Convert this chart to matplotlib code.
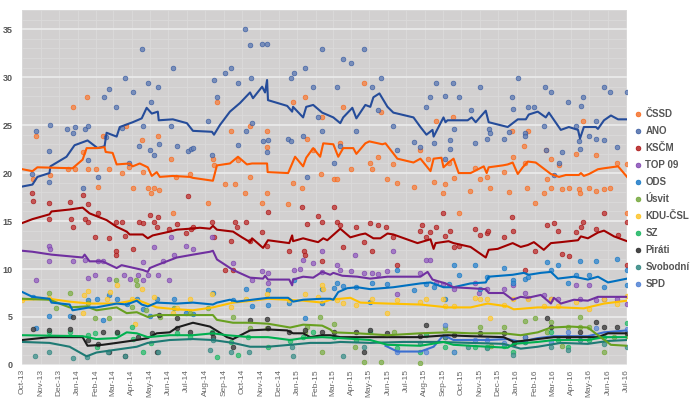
import matplotlib
matplotlib.use('Agg')
import matplotlib.pyplot as plt
import matplotlib.dates as mdates
from matplotlib.lines import Line2D
from matplotlib.ticker import MultipleLocator
import numpy as np
import pandas as pd

plt.rcParams['font.family'] = ['Liberation Sans', 'DejaVu Sans']

# Czech opinion polls after the Oct 2013 election
# x values are months after 1 Oct 2013, y values are percent
START = pd.Timestamp('2013-10-01')
END = pd.Timestamp('2016-07-03')

ANO_TREND = [(0, 18.6), (0.55, 18.8), (0.82, 19.6), (1.48, 20.0), (1.53, 20.7), (2.41, 21.7), (2.85, 22.9),
             (3.56, 23.4), (4.11, 22.6), (4.49, 22.8), (4.60, 24.2), (5.15, 23.8), (5.32, 24.8), (6.03, 25.3),
             (6.52, 25.7), (6.79, 26.8), (7.07, 26.2), (7.40, 26.4), (7.45, 25.5), (8.22, 25.6), (8.99, 25.2),
             (9.32, 24.4), (10.36, 24.3), (10.47, 24.0), (10.79, 25.0), (11.34, 26.4), (11.89, 27.3),
             (12.44, 28.4), (12.60, 27.8), (13.10, 29.0), (13.26, 28.4), (13.37, 29.7), (13.42, 27.6),
             (14.47, 27.0), (14.74, 26.4), (14.79, 26.9), (15.34, 25.8), (15.51, 26.9), (15.89, 27.1),
             (16.38, 26.3), (16.99, 25.8), (17.37, 25.2), (17.53, 25.8), (18.03, 26.8), (18.25, 25.7),
             (18.74, 27.1), (19.01, 26.9), (19.18, 27.9), (19.51, 28.3), (19.95, 26.9), (20.27, 26.3),
             (21.37, 25.8), (21.75, 24.8), (22.08, 24.0), (22.41, 24.5), (22.47, 23.8), (23.01, 25.8),
             (23.12, 25.3), (23.23, 25.5), (24.33, 25.5), (24.55, 25.8), (24.77, 25.3), (25.32, 26.5),
             (25.48, 25.3), (26.52, 24.8), (27.07, 25.6), (27.51, 25.6), (27.67, 26.1), (28.16, 26.4),
             (28.60, 25.8), (28.77, 26.3), (29.42, 24.5), (29.86, 24.8), (30.36, 24.5), (30.47, 23.6),
             (30.68, 24.8), (31.34, 24.8), (31.45, 24.6), (31.78, 25.5), (32.16, 26.0), (32.55, 25.6),
             (33.04, 25.6)]
ANO_POLLS = [(0.77, 24.4), (0.55, 19.9), (1.53, 25.0), (1.48, 22.3), (1.48, 19.1), (2.41, 24.6), (2.85, 24.8),
             (2.74, 24.2), (3.40, 24.6), (3.56, 24.9), (3.29, 18.4), (3.56, 21.4), (4.44, 27.9), (4.71, 28.8),
             (5.10, 26.9), (4.55, 23.8), (4.11, 19.6), (5.59, 29.9), (6.03, 28.4), (5.42, 24.7), (5.81, 21.0),
             (6.52, 32.9), (6.85, 29.4), (7.01, 27.4), (7.40, 29.0), (6.58, 24.9), (6.96, 22.4), (7.18, 21.9),
             (7.45, 23.0), (6.36, 22.8), (8.22, 30.9), (8.11, 24.9), (8.44, 22.8), (9.04, 22.3), (9.21, 22.5),
             (9.32, 22.6), (10.14, 25.4), (10.36, 21.9), (10.47, 29.7), (10.63, 27.9), (11.07, 30.4),
             (11.40, 30.9), (11.78, 29.4), (12.49, 29.9), (12.16, 35.0), (12.44, 33.3), (13.10, 33.4),
             (13.37, 33.5), (12.55, 25.2), (12.22, 24.4), (11.78, 22.9), (13.37, 22.2), (13.42, 23.4),
             (13.15, 23.3), (14.68, 29.9), (14.85, 30.4), (15.45, 30.9), (15.89, 29.0), (16.38, 32.9),
             (14.52, 23.5), (14.68, 23.3), (15.34, 23.9), (15.56, 19.6), (16.16, 25.8), (16.38, 24.4),
             (17.53, 31.9), (17.97, 31.5), (18.68, 32.9), (17.21, 29.0), (19.62, 29.9), (19.12, 29.0),
             (17.37, 22.8), (17.04, 21.1), (18.25, 24.4), (19.45, 26.6), (20.27, 24.9), (20.49, 22.4),
             (21.42, 23.2), (21.70, 22.7), (22.08, 26.9), (22.30, 27.9), (22.58, 29.4), (22.47, 23.1),
             (23.07, 28.0), (23.07, 21.5), (23.34, 23.4), (23.34, 22.5), (23.51, 29.4), (23.56, 24.6),
             (23.84, 27.9), (24.49, 26.6), (24.71, 23.1), (24.99, 29.0), (25.37, 23.6), (25.48, 24.6),
             (25.53, 24.2), (26.30, 23.6), (26.58, 24.3), (26.74, 27.9), (26.79, 26.7), (27.07, 29.9),
             (27.45, 24.2), (27.45, 23.9), (27.62, 26.9), (27.95, 26.9), (28.49, 24.9), (28.55, 29.0),
             (28.88, 28.4), (28.60, 22.4), (29.32, 21.1), (29.04, 19.8), (29.48, 22.2), (29.81, 27.4),
             (30.25, 24.9), (30.52, 27.0), (30.63, 27.9), (30.41, 23.3), (30.47, 22.5), (30.96, 23.9),
             (31.34, 25.4), (31.34, 23.5), (31.78, 29.0), (31.78, 23.4), (32.11, 28.4), (32.49, 22.7),
             (33.04, 28.4)]

CSSD_TREND = [(0, 20.4), (0.55, 20.2), (0.82, 20.6), (2.74, 20.5), (3.29, 21.4), (3.51, 22.6), (4.05, 22.6),
              (4.49, 22.7), (4.55, 22.2), (4.93, 22.1), (5.15, 20.9), (5.86, 21.0), (6.03, 20.7), (6.41, 21.0),
              (6.85, 20.6), (7.07, 19.7), (7.34, 20.1), (7.51, 19.6), (8.22, 19.7), (9.15, 19.6), (9.32, 19.5),
              (10.41, 19.2), (10.63, 20.8), (11.34, 21.0), (11.78, 21.7), (12.27, 20.9), (12.55, 21.0),
              (13.37, 21.0), (13.40, 20.1), (14.52, 20.0), (14.90, 21.7), (15.34, 20.7), (15.51, 21.6),
              (15.89, 22.6), (16.27, 21.7), (16.44, 23.1), (16.99, 23.0), (17.26, 21.7), (17.53, 22.6),
              (18.08, 22.6), (18.25, 22.0), (18.74, 23.1), (18.96, 23.3), (19.67, 23.0), (19.84, 23.1),
              (20.49, 21.5), (21.37, 21.1), (21.75, 21.5), (22.30, 20.2), (22.47, 21.5), (22.90, 21.6),
              (23.01, 20.6), (23.29, 21.1), (23.56, 21.5), (23.84, 20.0), (24.49, 20.0), (25.21, 20.7),
              (25.37, 20.0), (25.48, 20.6), (26.25, 20.8), (26.52, 20.9), (26.79, 21.1), (27.07, 19.9),
              (27.34, 20.6), (27.62, 21.2), (28.05, 21.1), (28.88, 19.9), (29.32, 19.6), (29.70, 19.8),
              (30.41, 19.8), (30.52, 20.0), (30.68, 19.7), (30.96, 19.9), (31.45, 20.4), (31.78, 20.5),
              (32.55, 20.7), (33.04, 19.6)]
CSSD_POLLS = [(0.77, 23.9), (0.60, 19.4), (1.53, 19.8), (2.79, 26.9), (3.51, 27.9), (2.47, 20.4), (2.85, 20.4),
              (3.29, 22.2), (3.56, 20.4), (4.00, 20.4), (4.11, 18.5), (4.38, 23.9), (4.71, 20.4), (5.42, 20.0),
              (5.64, 24.9), (5.81, 20.6), (6.03, 18.4), (6.52, 23.4), (6.58, 20.1), (6.85, 18.4), (7.01, 17.9),
              (7.18, 18.4), (7.45, 18.2), (7.40, 23.9), (8.11, 21.5), (8.38, 19.6), (9.15, 19.9), (10.14, 16.9),
              (8.22, 15.8), (10.41, 21.5), (10.47, 20.8), (10.63, 27.4), (11.07, 18.9), (11.40, 24.4),
              (11.62, 18.9), (11.78, 21.4), (12.16, 17.9), (12.44, 24.9), (12.44, 19.6), (13.10, 16.9),
              (13.37, 24.4), (13.37, 22.7), (13.37, 17.9), (14.79, 27.4), (15.45, 27.9), (15.56, 23.5),
              (14.79, 19.0), (15.29, 18.4), (14.52, 16.8), (15.89, 22.4), (16.33, 19.9), (16.38, 25.8),
              (18.68, 29.4), (17.53, 26.9), (19.62, 26.4), (17.37, 23.1), (17.04, 19.4), (17.21, 19.4),
              (17.97, 20.4), (19.01, 21.0), (19.12, 20.4), (19.45, 21.7), (20.27, 20.9), (19.95, 19.4),
              (20.49, 19.0), (21.42, 18.5), (21.70, 22.4), (22.14, 21.5), (22.47, 19.1), (22.58, 25.4),
              (22.96, 17.9), (23.07, 18.9), (23.29, 21.1), (23.51, 25.8), (23.56, 19.5), (23.84, 15.8),
              (24.44, 18.1), (24.71, 20.5), (24.99, 19.4), (25.37, 19.6), (25.53, 18.4), (26.30, 20.1),
              (26.58, 18.0), (26.79, 21.7), (26.74, 24.4), (27.40, 22.8), (27.56, 18.4), (27.62, 24.4),
              (27.45, 21.1), (28.00, 16.9), (28.49, 17.9), (28.66, 19.4), (28.60, 22.4), (28.88, 21.5),
              (28.88, 18.4), (29.32, 20.8), (29.48, 18.3), (29.86, 18.4), (30.25, 22.0), (30.41, 18.3),
              (30.47, 17.9), (30.63, 25.4), (30.96, 18.4), (31.34, 21.9), (31.34, 18.1), (31.78, 18.3),
              (32.11, 18.4), (32.49, 21.0), (33.04, 20.9), (33.04, 15.8)]

KSCM_TREND = [(0, 14.8), (0.55, 15.2), (1.48, 15.7), (1.59, 16.0), (2.58, 16.2), (3.29, 16.4), (3.67, 15.8),
              (4.60, 15.1), (5.15, 14.4), (5.70, 13.9), (5.86, 13.6), (6.58, 13.6), (6.85, 13.2), (7.12, 13.5),
              (8.05, 13.9), (8.44, 14.1), (9.15, 14.2), (9.70, 14.3), (10.25, 14.2), (10.41, 14.5), (10.63, 14.1),
              (11.51, 13.9), (12.00, 13.3), (12.44, 12.8), (12.55, 13.2), (13.15, 12.2), (13.42, 13.0),
              (14.58, 12.7), (14.74, 13.5), (14.79, 12.9), (15.34, 13.2), (15.73, 13.0), (16.16, 12.8),
              (16.44, 13.2), (16.66, 13.0), (17.37, 14.2), (17.92, 13.3), (18.47, 13.6), (18.74, 13.7),
              (19.18, 13.2), (19.56, 13.2), (19.95, 13.7), (20.27, 13.6), (21.59, 12.7), (22.30, 13.1),
              (22.47, 12.1), (22.58, 12.7), (23.29, 12.9), (23.56, 12.7), (24.49, 12.3), (25.32, 11.2),
              (25.48, 12.0), (25.97, 12.1), (26.79, 12.7), (27.23, 12.3), (27.62, 12.5), (27.95, 12.8),
              (28.49, 12.0), (28.88, 12.7), (29.42, 12.8), (30.36, 13.0), (30.52, 13.4), (30.90, 13.2),
              (31.45, 13.8), (31.78, 14.0), (32.33, 13.4), (33.04, 12.9)]
KSCM_POLLS = [(0.60, 17.1), (0.55, 17.9), (1.48, 16.9), (1.48, 15.2), (2.58, 17.0), (2.63, 15.2), (2.79, 14.4),
              (3.29, 17.7), (3.40, 15.2), (3.56, 14.9), (3.56, 16.8), (3.95, 13.3), (4.11, 15.8), (4.71, 13.2),
              (5.10, 14.9), (5.42, 14.9), (5.59, 13.4), (6.36, 14.9), (6.58, 14.8), (6.96, 15.6), (7.18, 14.9),
              (7.34, 14.4), (7.40, 15.4), (8.00, 14.2), (8.44, 14.7), (8.93, 13.8), (9.04, 17.6), (9.21, 14.2),
              (9.32, 14.4), (5.10, 11.9), (5.10, 11.5), (6.03, 12.1), (10.36, 14.9), (10.47, 13.3),
              (11.40, 12.9), (11.62, 14.9), (11.73, 14.4), (12.22, 14.9), (12.44, 12.9), (13.10, 13.9),
              (13.42, 15.9), (13.37, 12.4), (11.07, 9.9), (11.51, 9.9), (14.58, 11.9), (15.29, 16.5),
              (15.40, 11.9), (15.56, 14.7), (15.45, 11.5), (16.16, 15.5), (16.38, 14.9), (16.38, 10.8),
              (17.04, 16.5), (17.21, 14.9), (17.37, 14.6), (17.53, 12.3), (18.25, 14.4), (18.68, 12.8),
              (19.01, 14.8), (19.12, 11.9), (19.45, 14.6), (19.89, 14.4), (20.27, 13.3), (20.49, 10.4),
              (21.70, 14.0), (21.86, 14.6), (22.08, 13.3), (22.30, 13.9), (22.58, 14.4), (22.96, 15.8),
              (23.07, 13.4), (23.34, 14.0), (23.56, 12.3), (23.84, 12.4), (24.71, 14.2), (24.99, 13.5),
              (25.37, 13.8), (25.42, 14.0), (26.30, 13.3), (26.74, 15.4), (26.79, 14.0), (27.45, 9.9),
              (28.00, 11.9), (28.66, 14.6), (29.04, 14.8), (29.26, 14.0), (29.48, 11.6), (29.86, 11.4),
              (30.25, 13.9), (30.63, 14.9), (30.52, 14.4), (31.34, 14.2), (31.78, 15.8), (32.55, 13.5),
              (33.04, 14.9), (33.04, 10.4)]

TOP09_TREND = [(0, 11.9), (0.55, 11.8), (1.59, 11.5), (3.29, 11.2), (3.40, 11.5), (3.67, 10.8), (4.38, 10.8),
               (5.15, 10.1), (5.42, 10.4), (6.58, 9.9), (6.85, 9.7), (6.96, 10.1), (7.34, 10.4), (8.44, 11.2),
               (9.32, 11.5), (10.25, 11.8), (10.41, 11.9), (10.63, 11.0), (11.51, 9.9), (12.44, 9.1),
               (13.15, 9.0), (13.26, 9.3), (13.42, 8.9), (14.58, 8.9), (14.74, 8.3), (14.79, 8.9), (15.34, 9.2),
               (15.89, 9.1), (16.38, 9.7), (16.82, 9.4), (16.99, 9.6), (17.48, 9.3), (18.30, 9.2), (19.01, 9.0),
               (19.95, 9.2), (20.82, 9.2), (21.75, 9.2), (22.14, 9.7), (22.41, 8.9), (23.12, 8.5), (23.56, 8.1),
               (24.49, 8.0), (25.32, 7.9), (25.48, 7.5), (26.30, 7.5), (26.79, 6.8), (27.23, 7.1), (27.62, 7.0),
               (28.33, 7.3), (28.88, 6.4), (29.04, 7.0), (29.42, 6.4), (30.14, 6.8), (30.90, 6.7), (31.45, 7.1),
               (32.16, 7.1), (33.04, 7.1)]
TOP09_POLLS = [(1.48, 12.4), (1.53, 12.1), (1.48, 10.8), (0.77, 8.9), (2.74, 10.8), (3.40, 10.9), (3.95, 9.4),
               (3.56, 9.1), (4.71, 9.0), (4.11, 10.8), (4.38, 10.8), (5.53, 9.4), (5.86, 9.0), (6.30, 9.4),
               (6.58, 10.7), (6.58, 8.9), (6.85, 9.4), (7.18, 12.3), (7.40, 9.4), (7.67, 10.8), (8.00, 8.9),
               (8.11, 13.3), (8.27, 11.5), (8.93, 12.4), (9.32, 12.1), (10.36, 13.3), (11.51, 10.6), (12.55, 8.9),
               (13.10, 9.8), (13.42, 9.6), (13.42, 8.5), (14.85, 9.9), (15.34, 10.9), (15.18, 10.0), (15.89, 10.6),
               (16.38, 11.9), (16.38, 9.7), (17.21, 10.4), (17.37, 9.9), (17.97, 9.8), (18.19, 11.5), (18.68, 9.6),
               (19.12, 9.6), (19.45, 9.5), (19.95, 9.8), (20.27, 11.9), (20.49, 7.4), (21.70, 9.6), (22.08, 10.9),
               (22.30, 10.9), (22.58, 8.5), (22.96, 8.4), (23.56, 7.9), (24.71, 8.5), (24.93, 7.5), (25.37, 7.9),
               (26.30, 7.9), (26.79, 8.3), (27.45, 7.5), (27.62, 7.0), (28.49, 7.3), (28.88, 6.9), (29.26, 6.9),
               (30.25, 8.3), (30.47, 6.9), (30.96, 8.3), (31.34, 6.8), (31.78, 6.9), (32.49, 6.9), (33.04, 6.4)]

ODS_TREND = [(0, 7.6), (0.55, 7.1), (1.48, 6.9), (1.59, 6.5), (2.58, 6.3), (2.74, 5.7), (3.67, 6.0), (4.05, 6.0),
             (5.15, 6.4), (5.70, 6.3), (6.25, 6.7), (6.52, 6.3), (6.85, 6.1), (7.34, 6.5), (8.44, 6.4), (9.32, 6.5),
             (10.41, 6.3), (10.63, 6.5), (11.34, 6.8), (11.73, 6.6), (12.55, 6.8), (13.42, 7.0), (14.52, 7.0),
             (14.79, 6.6), (15.34, 6.8), (16.38, 6.9), (16.82, 6.9), (16.99, 6.8), (17.26, 7.6), (17.75, 8.0),
             (18.30, 8.1), (19.01, 7.9), (20.27, 8.1), (21.75, 8.5), (22.30, 8.6), (23.01, 8.1), (23.56, 8.1),
             (24.49, 8.5), (25.32, 8.6), (25.48, 9.2), (26.79, 9.4), (27.40, 9.6), (27.67, 9.4), (28.33, 9.6),
             (28.88, 9.7), (29.26, 9.0), (30.14, 9.2), (30.90, 8.9), (31.45, 9.2), (32.00, 8.6), (33.04, 9.0)]
ODS_POLLS = [(0.60, 7.1), (0.77, 3.9), (1.48, 5.1), (2.58, 5.1), (3.56, 6.8), (4.05, 6.9), (4.38, 4.7), (4.71, 7.3),
             (5.15, 6.9), (5.70, 6.4), (6.25, 6.9), (6.58, 5.8), (6.96, 5.1), (7.34, 6.9), (8.27, 6.9), (8.93, 5.4),
             (9.32, 5.3), (10.41, 7.5), (11.51, 6.8), (12.22, 7.9), (12.55, 6.1), (13.42, 6.3), (13.42, 7.8),
             (14.58, 6.5), (14.85, 8.9), (15.45, 4.9), (16.38, 7.9), (16.38, 6.5), (17.04, 8.0), (17.21, 8.5),
             (17.53, 8.2), (18.25, 8.1), (19.01, 6.6), (19.12, 8.5), (19.95, 8.4), (20.49, 9.9), (21.42, 7.8),
             (22.08, 8.4), (22.47, 8.1), (23.07, 6.9), (23.29, 8.4), (23.56, 10.4), (23.84, 9.4), (24.71, 10.4),
             (24.99, 7.9), (25.37, 9.2), (26.30, 10.1), (26.79, 8.9), (26.79, 8.5), (27.45, 9.0), (27.62, 9.2),
             (28.66, 10.7), (28.88, 9.9), (29.26, 10.4), (29.81, 8.5), (30.25, 9.4), (30.47, 10.8), (30.96, 9.4),
             (31.34, 10.8), (31.78, 8.1), (32.49, 11.0), (33.04, 9.9), (33.04, 8.3)]

USVIT_TREND = [(0, 6.9), (1.48, 6.8), (2.58, 6.0), (3.51, 6.1), (4.05, 5.7), (5.15, 6.0), (5.70, 5.4), (6.25, 5.5),
               (6.85, 5.0), (7.34, 5.2), (10.41, 5.2), (10.63, 4.7), (11.51, 4.4), (12.44, 4.4), (13.42, 4.3),
               (14.63, 3.9), (15.34, 4.2), (16.38, 4.1), (16.82, 3.7), (16.99, 3.4), (18.30, 3.3), (19.95, 3.1),
               (21.75, 3.3), (23.23, 3.4), (24.49, 3.3), (26.30, 3.3), (27.23, 3.1), (28.16, 3.4), (28.88, 3.9),
               (29.97, 4.0), (30.90, 3.9), (31.45, 3.1), (32.16, 2.1), (33.04, 2.0)]
USVIT_POLLS = [(1.48, 7.5), (1.86, 5.9), (2.58, 7.5), (3.56, 6.5), (3.95, 4.9), (5.10, 8.9), (4.71, 4.9), (5.97, 6.0),
               (6.19, 8.9), (6.25, 8.3), (6.74, 5.7), (7.51, 5.0), (8.27, 5.9), (9.15, 5.4), (10.14, 5.9), (11.51, 5.0),
               (12.44, 3.9), (13.37, 3.9), (15.45, 3.4), (15.56, 4.0), (16.38, 1.4), (16.27, 5.0), (17.04, 4.3),
               (18.19, 1.9), (18.68, 0.3), (19.62, 0.3), (21.70, 0.2), (20.33, 3.4), (23.07, 3.9), (24.99, 4.0),
               (25.59, 2.0), (26.30, 4.0), (27.45, 4.6), (28.00, 4.9), (28.66, 3.4), (28.88, 4.5), (29.48, 2.0),
               (29.81, 4.0), (30.47, 5.0), (30.47, 4.0), (30.96, 4.0), (31.78, 1.4), (32.33, 2.9), (33.04, 3.0)]

KDU_TREND = [(0, 6.8), (1.48, 6.9), (2.58, 6.6), (3.67, 6.4), (5.15, 6.4), (6.25, 6.8), (7.34, 6.0), (8.44, 5.8),
             (9.32, 5.7), (10.41, 6.0), (11.51, 6.5), (12.55, 6.7), (13.42, 6.9), (15.34, 6.7), (16.38, 6.5),
             (16.82, 6.8), (17.37, 6.9), (17.92, 7.0), (18.47, 6.5), (19.95, 6.4), (21.75, 6.3), (23.23, 6.0),
             (24.49, 6.0), (25.42, 6.4), (26.52, 6.1), (26.85, 5.8), (28.16, 6.0), (29.42, 6.0), (30.68, 5.9),
             (31.78, 6.4), (33.04, 6.7)]
KDU_POLLS = [(0, 6.8), (1.48, 7.0), (3.56, 7.7), (3.34, 7.3), (3.29, 5.4), (4.60, 6.9), (4.77, 7.6), (5.15, 8.3),
             (6.14, 4.3), (5.97, 6.9), (6.52, 7.9), (7.18, 7.1), (8.22, 5.4), (8.44, 5.9), (9.15, 6.9), (10.36, 7.4),
             (11.40, 6.0), (12.22, 6.9), (13.37, 7.4), (14.58, 6.8), (15.45, 7.4), (16.38, 8.3), (16.16, 7.1),
             (16.44, 7.9), (17.21, 6.8), (17.53, 6.5), (18.25, 6.3), (19.12, 6.9), (19.95, 5.4), (20.49, 6.8),
             (21.70, 6.6), (22.08, 6.9), (23.01, 6.9), (23.07, 6.1), (23.56, 6.1), (24.71, 7.0), (24.99, 6.9),
             (25.37, 6.9), (25.53, 4.9), (26.30, 6.3), (26.79, 6.9), (27.62, 6.9), (28.49, 6.1), (28.88, 6.9),
             (29.26, 6.1), (30.25, 6.6), (30.96, 5.8), (31.78, 6.9), (32.49, 6.4), (33.04, 7.2)]

SZ_TREND = [(0, 3.1), (3.29, 3.0), (4.05, 2.7), (5.15, 2.8), (5.70, 3.4), (6.25, 3.3), (6.85, 2.9), (8.05, 3.1),
            (9.32, 3.1), (10.41, 3.3), (11.18, 3.1), (12.44, 2.9), (13.42, 2.9), (14.63, 2.6), (15.34, 2.8),
            (16.38, 2.9), (17.37, 2.8), (19.01, 2.6), (19.95, 2.1), (21.75, 2.0), (23.01, 2.4), (23.56, 2.1),
            (25.42, 1.9), (26.52, 1.8), (26.85, 2.2), (28.16, 2.4), (29.04, 2.6), (30.90, 2.6), (31.78, 2.9),
            (33.04, 2.9)]
SZ_POLLS = [(1.48, 3.4), (2.58, 3.4), (3.56, 3.1), (3.95, 3.3), (4.05, 1.9), (5.15, 3.3), (5.97, 4.0), (6.03, 2.7),
            (7.01, 2.3), (8.44, 3.3), (9.15, 2.9), (10.36, 3.4), (10.63, 0.8), (11.40, 2.4), (12.33, 2.9),
            (13.42, 1.9), (14.63, 2.5), (15.34, 2.9), (15.89, 3.4), (6.58, 1.3), (11.78, 1.0), (17.04, 2.9),
            (18.25, 2.6), (19.01, 3.4), (20.49, 1.8), (21.70, 1.3), (22.08, 3.1), (23.07, 1.9), (23.56, 1.3),
            (24.71, 1.9), (25.37, 1.9), (26.30, 2.0), (26.79, 1.4), (27.45, 2.4), (28.88, 3.4), (29.26, 2.6),
            (29.81, 1.9), (30.96, 2.6), (31.78, 2.9), (33.04, 4.4)]

PIRATI_TREND = [(0, 2.6), (1.48, 2.9), (3.29, 2.9), (3.56, 2.0), (4.38, 2.1), (5.15, 2.3), (6.25, 2.6), (6.85, 2.8),
                (7.34, 3.3), (8.05, 3.4), (8.44, 3.9), (9.32, 4.4), (10.25, 4.0), (11.18, 2.9), (11.51, 2.7),
                (12.44, 3.6), (13.42, 3.7), (14.47, 3.6), (14.79, 3.3), (15.34, 3.3), (15.73, 2.9), (16.38, 3.1),
                (16.82, 3.1), (17.37, 2.9), (19.01, 2.9), (20.82, 2.9), (21.75, 2.9), (23.23, 3.1), (24.49, 3.0),
                (26.30, 2.9), (26.85, 2.4), (28.16, 2.7), (29.04, 2.9), (29.97, 2.9), (31.45, 2.9), (32.00, 3.3),
                (33.04, 3.3)]
PIRATI_POLLS = [(0.60, 3.7), (1.48, 3.6), (2.58, 3.7), (2.79, 5.0), (3.56, 2.6), (4.11, 2.2), (4.38, 3.4), (4.71, 1.3),
                (5.15, 3.4), (5.59, 0.9), (6.30, 2.9), (7.07, 3.3), (7.34, 1.4), (7.45, 5.2), (8.44, 4.9), (8.44, 3.9),
                (9.15, 3.4), (10.36, 3.3), (10.41, 2.9), (11.51, 1.9), (12.44, 4.7), (13.37, 4.8), (13.42, 3.9),
                (14.58, 3.4), (15.45, 3.6), (16.38, 3.4), (17.04, 3.4), (18.25, 3.4), (18.68, 1.4), (19.01, 3.6),
                (19.95, 3.3), (21.70, 3.0), (22.08, 4.2), (23.07, 2.9), (23.56, 3.1), (24.99, 3.3), (26.30, 3.3),
                (26.85, 2.3), (27.45, 2.9), (28.66, 4.9), (28.88, 4.0), (29.81, 2.9), (30.47, 3.4), (31.34, 4.5),
                (31.78, 4.0), (32.49, 4.0), (33.04, 3.3)]

SVOBODNI_TREND = [(0, 2.4), (1.48, 2.3), (2.58, 1.9), (3.51, 0.9), (4.05, 1.3), (5.15, 1.6), (6.25, 1.9), (6.85, 2.3),
                  (8.05, 2.6), (9.32, 2.7), (10.41, 2.6), (11.51, 2.3), (12.44, 1.9), (13.42, 1.9), (14.63, 2.1),
                  (15.73, 2.3), (16.82, 2.3), (17.37, 2.4), (19.01, 2.3), (20.82, 2.4), (22.68, 2.4), (24.49, 2.3),
                  (26.30, 2.2), (27.23, 1.7), (28.16, 1.9), (29.42, 2.3), (30.90, 2.2), (32.00, 2.5), (33.04, 2.6)]
SVOBODNI_POLLS = [(0.71, 0.9), (1.48, 1.4), (2.79, 0.7), (3.51, 0.8), (4.66, 1.3), (5.59, 0.9), (7.40, 1.4),
                  (10.25, 1.6), (10.41, 2.6), (11.40, 1.4), (12.38, 1.4), (14.74, 1.9), (14.79, 0.9), (17.53, 0.9),
                  (18.68, 1.9), (21.70, 2.3), (23.07, 2.9), (24.33, 1.9), (25.37, 1.8), (26.79, 1.0), (27.45, 2.4),
                  (28.88, 1.9), (29.81, 1.6), (30.47, 2.6), (31.78, 2.2), (33.04, 1.9)]

SPD_TREND = [(19.84, 2.0), (20.49, 1.4), (21.75, 1.4), (22.47, 1.9), (23.01, 3.1), (23.56, 2.6), (25.42, 2.6),
             (26.52, 2.7), (27.23, 2.4), (28.16, 2.8), (29.04, 3.0), (30.90, 3.0), (31.78, 3.4), (33.04, 3.6)]
SPD_POLLS = [(20.49, 1.4), (22.08, 1.4), (23.07, 4.2), (23.56, 1.4), (24.71, 2.6), (25.37, 2.6), (26.30, 2.3),
             (27.45, 2.9), (28.88, 2.4), (29.81, 3.4), (31.34, 3.9), (33.04, 3.7)]

# name, trend, polls, line colour, dot colour
PARTIES = [
    ('ČSSD', CSSD_TREND, CSSD_POLLS, '#ff5a00', '#f2874f'),
    ('ANO', ANO_TREND, ANO_POLLS, '#254c9a', '#6882b6'),
    ('KSČM', KSCM_TREND, KSCM_POLLS, '#a00000', '#c24040'),
    ('TOP 09', TOP09_TREND, TOP09_POLLS, '#7030a0', '#9a6ac4'),
    ('ODS', ODS_TREND, ODS_POLLS, '#0070c0', '#3f8cd0'),
    ('Úsvit', USVIT_TREND, USVIT_POLLS, '#68a020', '#88b45c'),
    ('KDU-ČSL', KDU_TREND, KDU_POLLS, '#ffc000', '#fccb4e'),
    ('SZ', SZ_TREND, SZ_POLLS, '#00b050', '#3dbf78'),
    ('Piráti', PIRATI_TREND, PIRATI_POLLS, '#1c1c1c', '#474747'),
    ('Svobodní', SVOBODNI_TREND, SVOBODNI_POLLS, '#1e7a74', '#4f9994'),
    ('SPD', SPD_TREND, SPD_POLLS, '#3b6fd0', '#6b95da'),
]


def to_dates(months):
    return START + pd.to_timedelta(np.asarray(months) * 30.44, unit='D')


fig = plt.figure(figsize=(7.0, 3.98), dpi=100)
ax = fig.add_axes([0.032, 0.083, 0.864, 0.892])
ax.set_facecolor('#d2d0d0')

# dots first, trend lines on top
for name, trend, polls, lc, dc in PARTIES:
    pm, pv = zip(*polls)
    ax.scatter(to_dates(pm), pv, s=12, color=dc, edgecolors=lc, linewidths=0.4,
               alpha=0.85, zorder=2)
for name, trend, polls, lc, dc in reversed(PARTIES):
    tm, tv = zip(*trend)
    ax.plot(to_dates(tm), tv, color=lc, lw=1.5, zorder=3)

ax.set_xlim(START, END)
ax.set_ylim(0, 37)
ax.yaxis.set_major_locator(MultipleLocator(5))
ax.yaxis.set_minor_locator(MultipleLocator(1))
ax.xaxis.set_major_locator(mdates.MonthLocator())
ax.xaxis.set_major_formatter(mdates.DateFormatter('%b-%y'))

ax.set_axisbelow(True)
ax.grid(which='major', axis='y', color='#ececec', lw=1.2)
ax.grid(which='minor', axis='y', color='#dbdada', lw=0.6)
ax.grid(which='major', axis='x', color='#dbdada', lw=0.6)

for s in ax.spines.values():
    s.set_visible(False)
ax.tick_params(which='both', length=0)
ax.tick_params(axis='y', labelsize=6.5, labelcolor='#555555', pad=7)
ax.tick_params(axis='x', labelsize=6, labelcolor='#666666', rotation=90, pad=3)
for t in ax.get_yticklabels():
    t.set_fontweight('bold')

handles = [Line2D([], [], marker='o', ls='', ms=3.5, color=dc, markeredgecolor=lc,
                  markeredgewidth=0.4, label=name) for name, _, _, lc, dc in PARTIES]
leg = fig.legend(handles=handles, loc='upper left', bbox_to_anchor=(0.899, 0.738),
                 frameon=False, fontsize=7, handlelength=0.8, handletextpad=0.35,
                 labelspacing=0.72, borderpad=0)
for t in leg.get_texts():
    t.set_color('#555555')
    t.set_fontweight('bold')

fig.savefig('out.png', dpi=100)
